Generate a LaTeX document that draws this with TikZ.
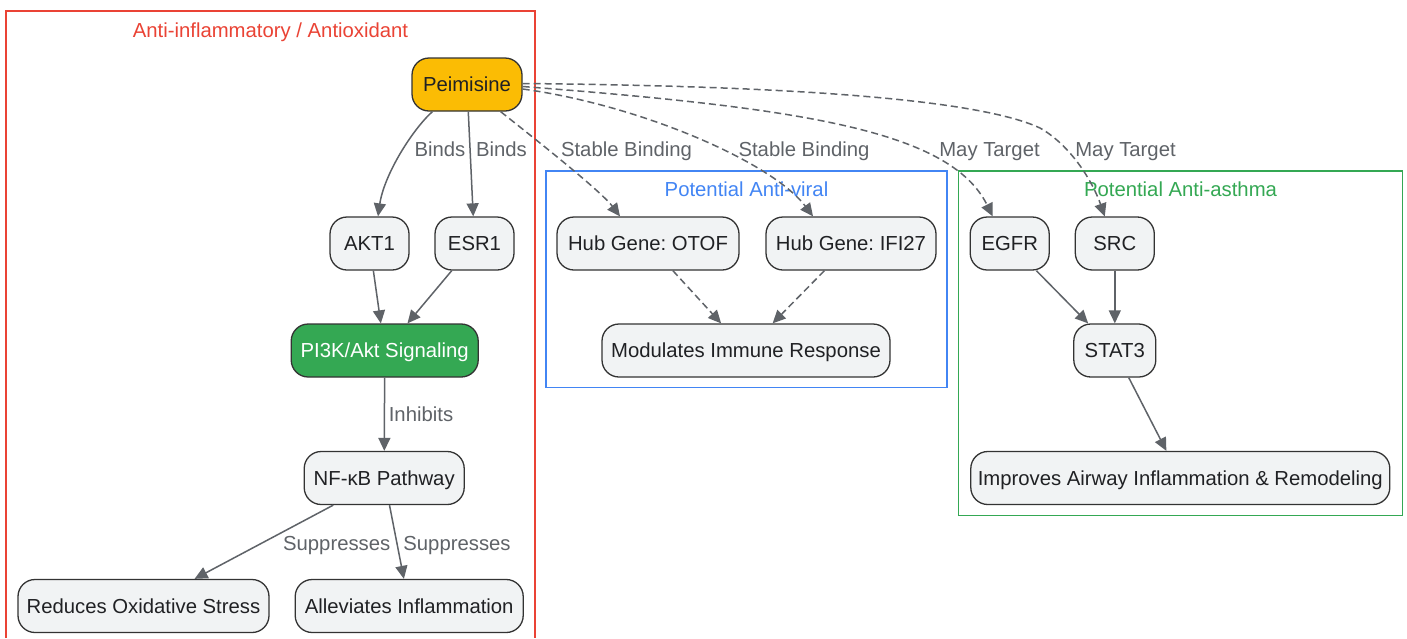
\documentclass[tikz,border=0pt]{standalone}
\usepackage{fontspec}
\setmainfont{Liberation Sans}
\usetikzlibrary{arrows.meta,calc}
\definecolor{nodefill}{HTML}{F1F3F4}
\definecolor{nodeline}{HTML}{333333}
\definecolor{txt}{HTML}{202124}
\definecolor{edgecol}{HTML}{5F6368}
\definecolor{gold}{HTML}{FBBC04}
\definecolor{ggreen}{HTML}{34A853}
\definecolor{gred}{HTML}{EA4335}
\definecolor{gblue}{HTML}{4285F4}
\frenchspacing
\begin{document}
\begin{tikzpicture}[x=1pt,y=-1pt,
  box/.style={draw=nodeline, line width=1.3pt, fill=nodefill, rounded corners=17pt,
    minimum height=53pt, inner sep=0pt, text=txt, text height=14.5pt, text depth=0pt,
    font=\fontsize{20.3}{24}\selectfont},
  edgeline/.style={draw=edgecol, line width=1.5pt, -{Triangle[length=13pt,width=12pt]}},
  dashedge/.style={edgeline, dash pattern=on 7pt off 4pt},
  elabel/.style={text=edgecol, font=\fontsize{20.3}{24}\selectfont, inner sep=0pt,
    text height=14.5pt, text depth=0pt},
  cluster/.style={line width=1.3pt},
  ctitle/.style={font=\fontsize{20.3}{24}\selectfont, inner sep=0pt, text height=14.5pt, text depth=0pt}
]
\useasboundingbox[fill=white] (0,0) rectangle (1407,638);
% clusters
\draw[gred, cluster] (6,638) -- (6,11) -- (535,11) -- (535,638);
\node[ctitle, text=gred] (t1) at (270.5,30) {Anti-inflammatory / Antioxidant};
\draw[gblue, cluster] (546,171) rectangle (947,387.5);
\node[ctitle, text=gblue] (t2) at (746.5,189) {Potential Anti-viral};
\draw[ggreen, cluster] (958.5,171) rectangle (1402.5,515.7);
\node[ctitle, text=ggreen] (t3) at (1180.5,189) {Potential Anti-asthma};
% nodes
\node[box, fill=gold, minimum width=110pt] (pei) at (467,84.5) {Peimisine};
\node[box, minimum width=79pt] (akt) at (369.5,243.5) {AKT1};
\node[box, minimum width=79pt] (esr) at (474.5,243.5) {ESR1};
\node[box, fill=ggreen, text=white, minimum width=187pt] (pi3k) at (384.7,350.5) {PI3K/Akt Signaling};
\node[box, minimum width=160pt] (nfkb) at (384.2,478) {NF-κB Pathway};
\node[box, minimum width=251pt] (ros) at (143.5,606) {Reduces Oxidative Stress};
\node[box, minimum width=228pt] (inf) at (409.2,606) {Alleviates Inflammation};
\node[box, minimum width=182pt] (otof) at (648,243.5) {Hub Gene: OTOF};
\node[box, minimum width=170pt] (ifi) at (851,243.5) {Hub Gene: IFI27};
\node[box, minimum width=288pt] (imm) at (746,350.5) {Modulates Immune Response};
\node[box, minimum width=79pt] (egfr) at (1009.7,243.5) {EGFR};
\node[box, minimum width=79pt] (src) at (1114.8,243.5) {SRC};
\node[box, minimum width=82pt] (stat) at (1114.8,350.5) {STAT3};
\node[box, minimum width=419pt] (air) at (1180.3,478) {Improves Airway Inflammation \& Remodeling};
% edges
\draw[edgeline] ($(pei.south west)+(21,0)$) .. controls (412,130) and (384,175) .. ($(akt.north)+(8.5,0)$);
\draw[edgeline] (pei) -- (esr);
\draw[edgeline] (akt) -- (pi3k);
\draw[edgeline] (esr) -- (pi3k);
\draw[edgeline] (pi3k) -- (nfkb);
\draw[edgeline] (nfkb) -- (ros);
\draw[edgeline] (nfkb) -- (inf);
\draw[dashedge] ($(pei.south east)+(-22,0)$) .. controls (530,135) and (600,190) .. ($(otof.north)+(-28,0)$);
\draw[dashedge] ($(pei.east)+(0,4.5)$) .. controls (640,105) and (772,162) .. ($(ifi.north)+(-38,0)$);
\draw[dashedge] ($(pei.east)+(0,2)$) .. controls (800,108) and (950,130) .. ($(egfr.north)+(-17,0)$);
\draw[dashedge] ($(pei.east)+(0,-1)$) .. controls (800,86) and (980,100) .. (1040,128) .. controls (1070,145) and (1092,180) .. ($(src.north)+(-10,0)$);
\draw[dashedge] (otof) -- (imm);
\draw[dashedge] (ifi) -- (imm);
\draw[edgeline] (egfr) -- (stat);
\draw[edgeline] (src) -- (stat);
\draw[edgeline] (stat) -- (air);
% edge labels
\node[elabel] (lb1) at (440,149) {Binds};
\node[elabel] (lb2) at (501.5,149) {Binds};
\node[elabel] (lb3) at (626.5,149) {Stable Binding};
\node[elabel] (lb4) at (804,149) {Stable Binding};
\node[elabel] (lb5) at (989.5,149) {May Target};
\node[elabel] (lb6) at (1125.5,149) {May Target};
\node[elabel] (lb7) at (421,414.5) {Inhibits};
\node[elabel] (lb8) at (336.7,543) {Suppresses};
\node[elabel] (lb9) at (457,543) {Suppresses};
\end{tikzpicture}
\end{document}
